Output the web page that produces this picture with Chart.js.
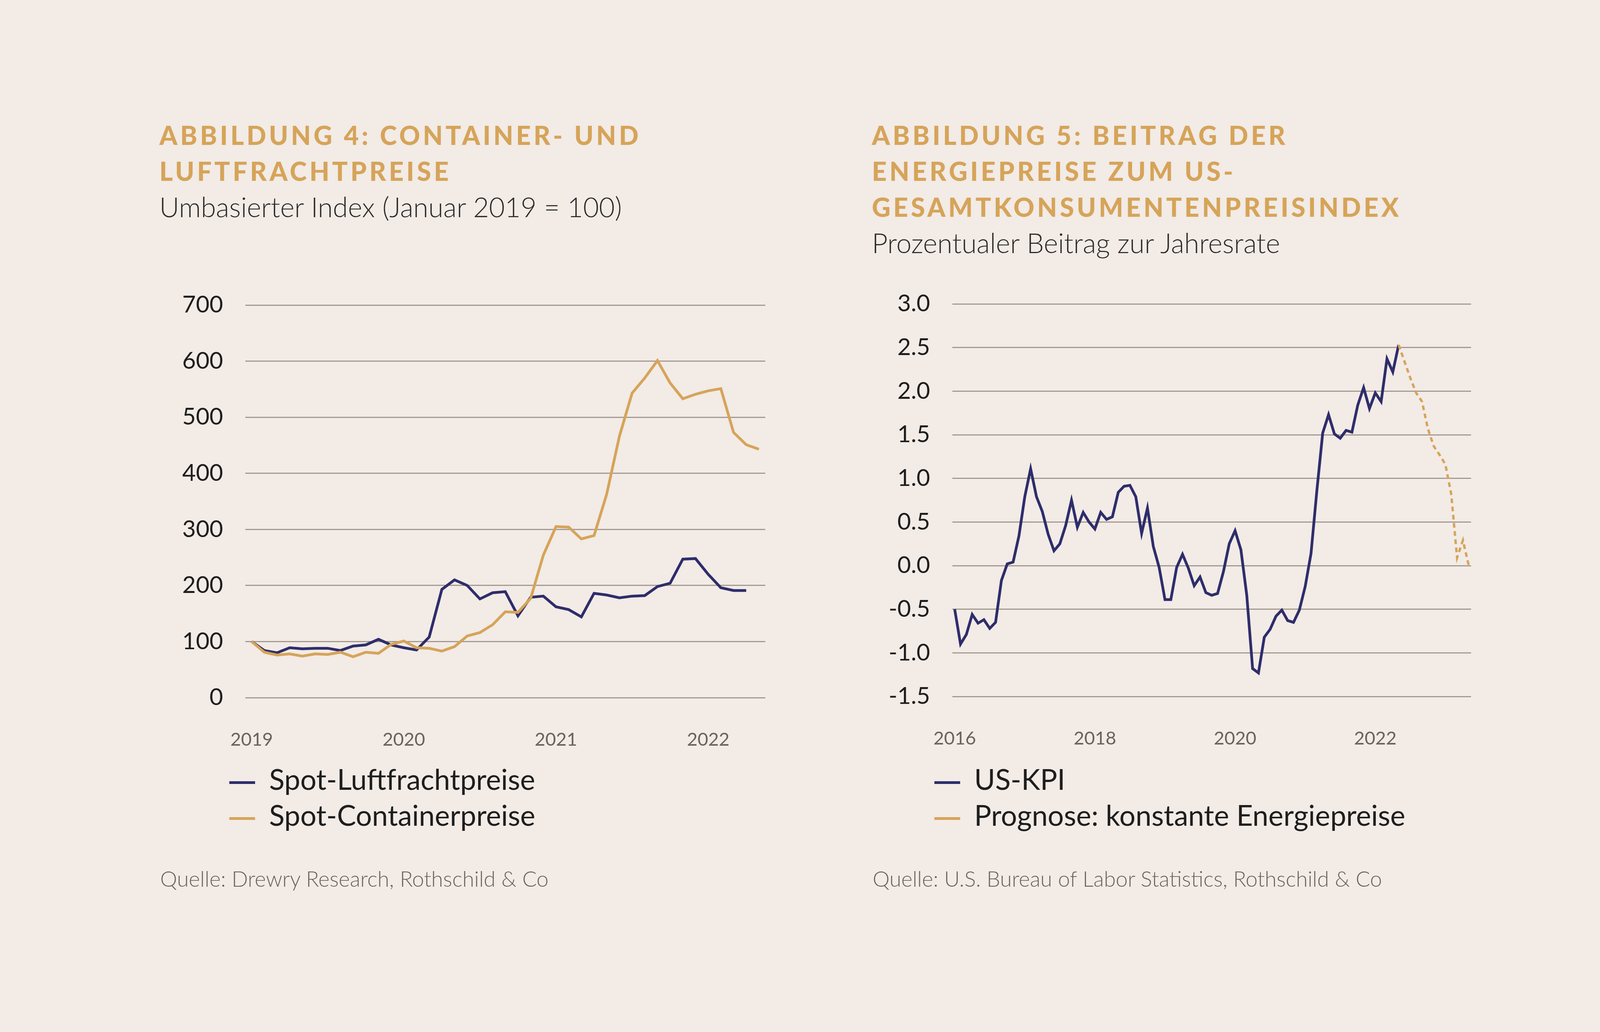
<!DOCTYPE html>
<html><head><meta charset="utf-8">
<script src="https://cdn.jsdelivr.net/npm/chart.js@4"></script>
<style>
  body { margin:0; width:4224px; height:2642px; background:#f2ebe6; font-family: Lato, "Open Sans", sans-serif; position:relative; overflow:hidden; }
  .t { position:absolute; color:#d6a459; font-weight:900; font-size:66px; letter-spacing:7px; line-height:92px; }
  .s { position:absolute; color:#2b2b2b; font-weight:300; font-size:70px; }
  .leg { position:absolute; font-size:73px; color:#1e1e1e; line-height:92px; }
  .leg span { display:inline-block; width:66px; height:7px; vertical-align:middle; margin-right:36px; }
  .src { position:absolute; font-size:55px; color:#6b625b; font-weight:300; }
  canvas { position:absolute; }
</style></head>
<body>
<div class="t" style="left:408px;top:300px">ABBILDUNG 4: CONTAINER- UND<br>LUFTFRACHTPREISE</div>
<div class="s" style="left:408px;top:487px">Umbasierter Index (Januar 2019 = 100)</div>
<div class="t" style="left:2232px;top:300px">ABBILDUNG 5: BEITRAG DER<br>ENERGIEPREISE ZUM US-<br>GESAMTKONSUMENTENPREISINDEX</div>
<div class="s" style="left:2232px;top:579px">Prozentualer Beitrag zur Jahresrate</div>

<canvas id="c1" width="1541" height="1238" style="left:428px;top:688px"></canvas>
<canvas id="c2" width="1538" height="1238" style="left:2238px;top:685px"></canvas>

<div class="leg" style="left:587px;top:1948px"><span style="background:#2e2d6b"></span>Spot-Luftfrachtpreise<br><span style="background:#d6a459"></span>Spot-Containerpreise</div>
<div class="leg" style="left:2392px;top:1948px"><span style="background:#2e2d6b"></span>US-KPI<br><span style="background:#d6a459"></span>Prognose: konstante Energiepreise</div>
<div class="src" style="left:410px;top:2216px">Quelle: Drewry Research, Rothschild &amp; Co</div>
<div class="src" style="left:2234px;top:2216px">Quelle: U.S. Bureau of Labor Statistics, Rothschild &amp; Co</div>

<script>
// Abbildung 4: monthly, Jan 2019 = index 0
const airFreight = [100,84,80,89,87,88,88,84,92,94,104,94,89,85,108,193,210,200,176,187,189,146,179,181,162,157,144,186,183,178,181,182,198,204,247,248,220,196,191,191];
const container = [100,81,76,78,74,78,77,81,73,81,79,95,101,89,88,83,91,110,116,130,153,152,177,254,305,304,283,289,363,466,543,570,601,561,533,541,547,551,473,451,443];
const yearTicks4 = { 0: "2019", 12: "2020", 24: "2021", 36: "2022" };

// Abbildung 5: monthly, Jan 2016 = index 0
const usCpi = [-0.50,-0.90,-0.79,-0.56,-0.66,-0.62,-0.72,-0.65,-0.17,0.02,0.04,0.34,0.79,1.11,0.79,0.62,0.36,0.17,0.25,0.46,0.75,0.44,0.61,0.50,0.42,0.61,0.53,0.56,0.84,0.91,0.92,0.79,0.37,0.66,0.22,-0.02,-0.39,-0.39,-0.02,0.13,-0.03,-0.23,-0.13,-0.31,-0.34,-0.32,-0.07,0.25,0.40,0.18,-0.34,-1.18,-1.23,-0.82,-0.73,-0.58,-0.51,-0.63,-0.65,-0.51,-0.24,0.14,0.86,1.52,1.73,1.51,1.46,1.55,1.53,1.84,2.04,1.80,1.98,1.88,2.37,2.22,2.53];
const forecastStart = 76;
const forecast = [2.53,2.34,2.15,1.98,1.88,1.57,1.37,1.27,1.16,0.82,0.09,0.29,0.00];
const yearTicks5 = { 0: "2016", 24: "2018", 48: "2020", 72: "2022" };

const BLUE = "#2e2d6b", GOLD = "#d6a459", GRID = "#a59a90";
const pts = (arr, off = 0) => arr.map((v, i) => ({ x: i + off, y: v }));

function makeChart(id, datasets, xmin, xmax, ymin, ymax, step, ticksMap, fmt) {
  return new Chart(document.getElementById(id), {
    type: "line",
    data: { datasets },
    options: {
      responsive: false, animation: false, devicePixelRatio: 1,
      layout: { padding: { top: 40, right: 10 } },
      plugins: { legend: { display: false }, tooltip: { enabled: false } },
      elements: { point: { radius: 0 }, line: { borderWidth: 7, tension: 0 } },
      scales: {
        x: {
          type: "linear", min: xmin, max: xmax,
          afterFit: s => { s.height = 140; },
          afterBuildTicks: s => { s.ticks = Object.keys(ticksMap).map(k => ({ value: +k })); },
          grid: { display: false }, border: { display: false },
          ticks: { padding: 72, color: "#6b625b", font: { family: "Lato", size: 47 }, callback: v => ticksMap[v] || "" }
        },
        y: {
          min: ymin, max: ymax,
          afterFit: s => { s.width = 200; },
          grid: { color: GRID, lineWidth: 3, drawTicks: false }, border: { display: false },
          ticks: { stepSize: step, padding: 57, color: "#1e1e1e", font: { family: "Lato", size: 60 }, callback: fmt }
        }
      }
    }
  });
}

makeChart("c1", [
  { data: pts(container), borderColor: GOLD },
  { data: pts(airFreight), borderColor: BLUE }
], -0.5, 40.5, 0, 700, 100, yearTicks4, v => v);

makeChart("c2", [
  { data: pts(forecast, forecastStart), borderColor: GOLD, borderDash: [12, 9], borderWidth: 6 },
  { data: pts(usCpi), borderColor: BLUE }
], -0.4, 88.4, -1.5, 3.0, 0.5, yearTicks5, v => v.toFixed(1));
</script>
</body></html>
